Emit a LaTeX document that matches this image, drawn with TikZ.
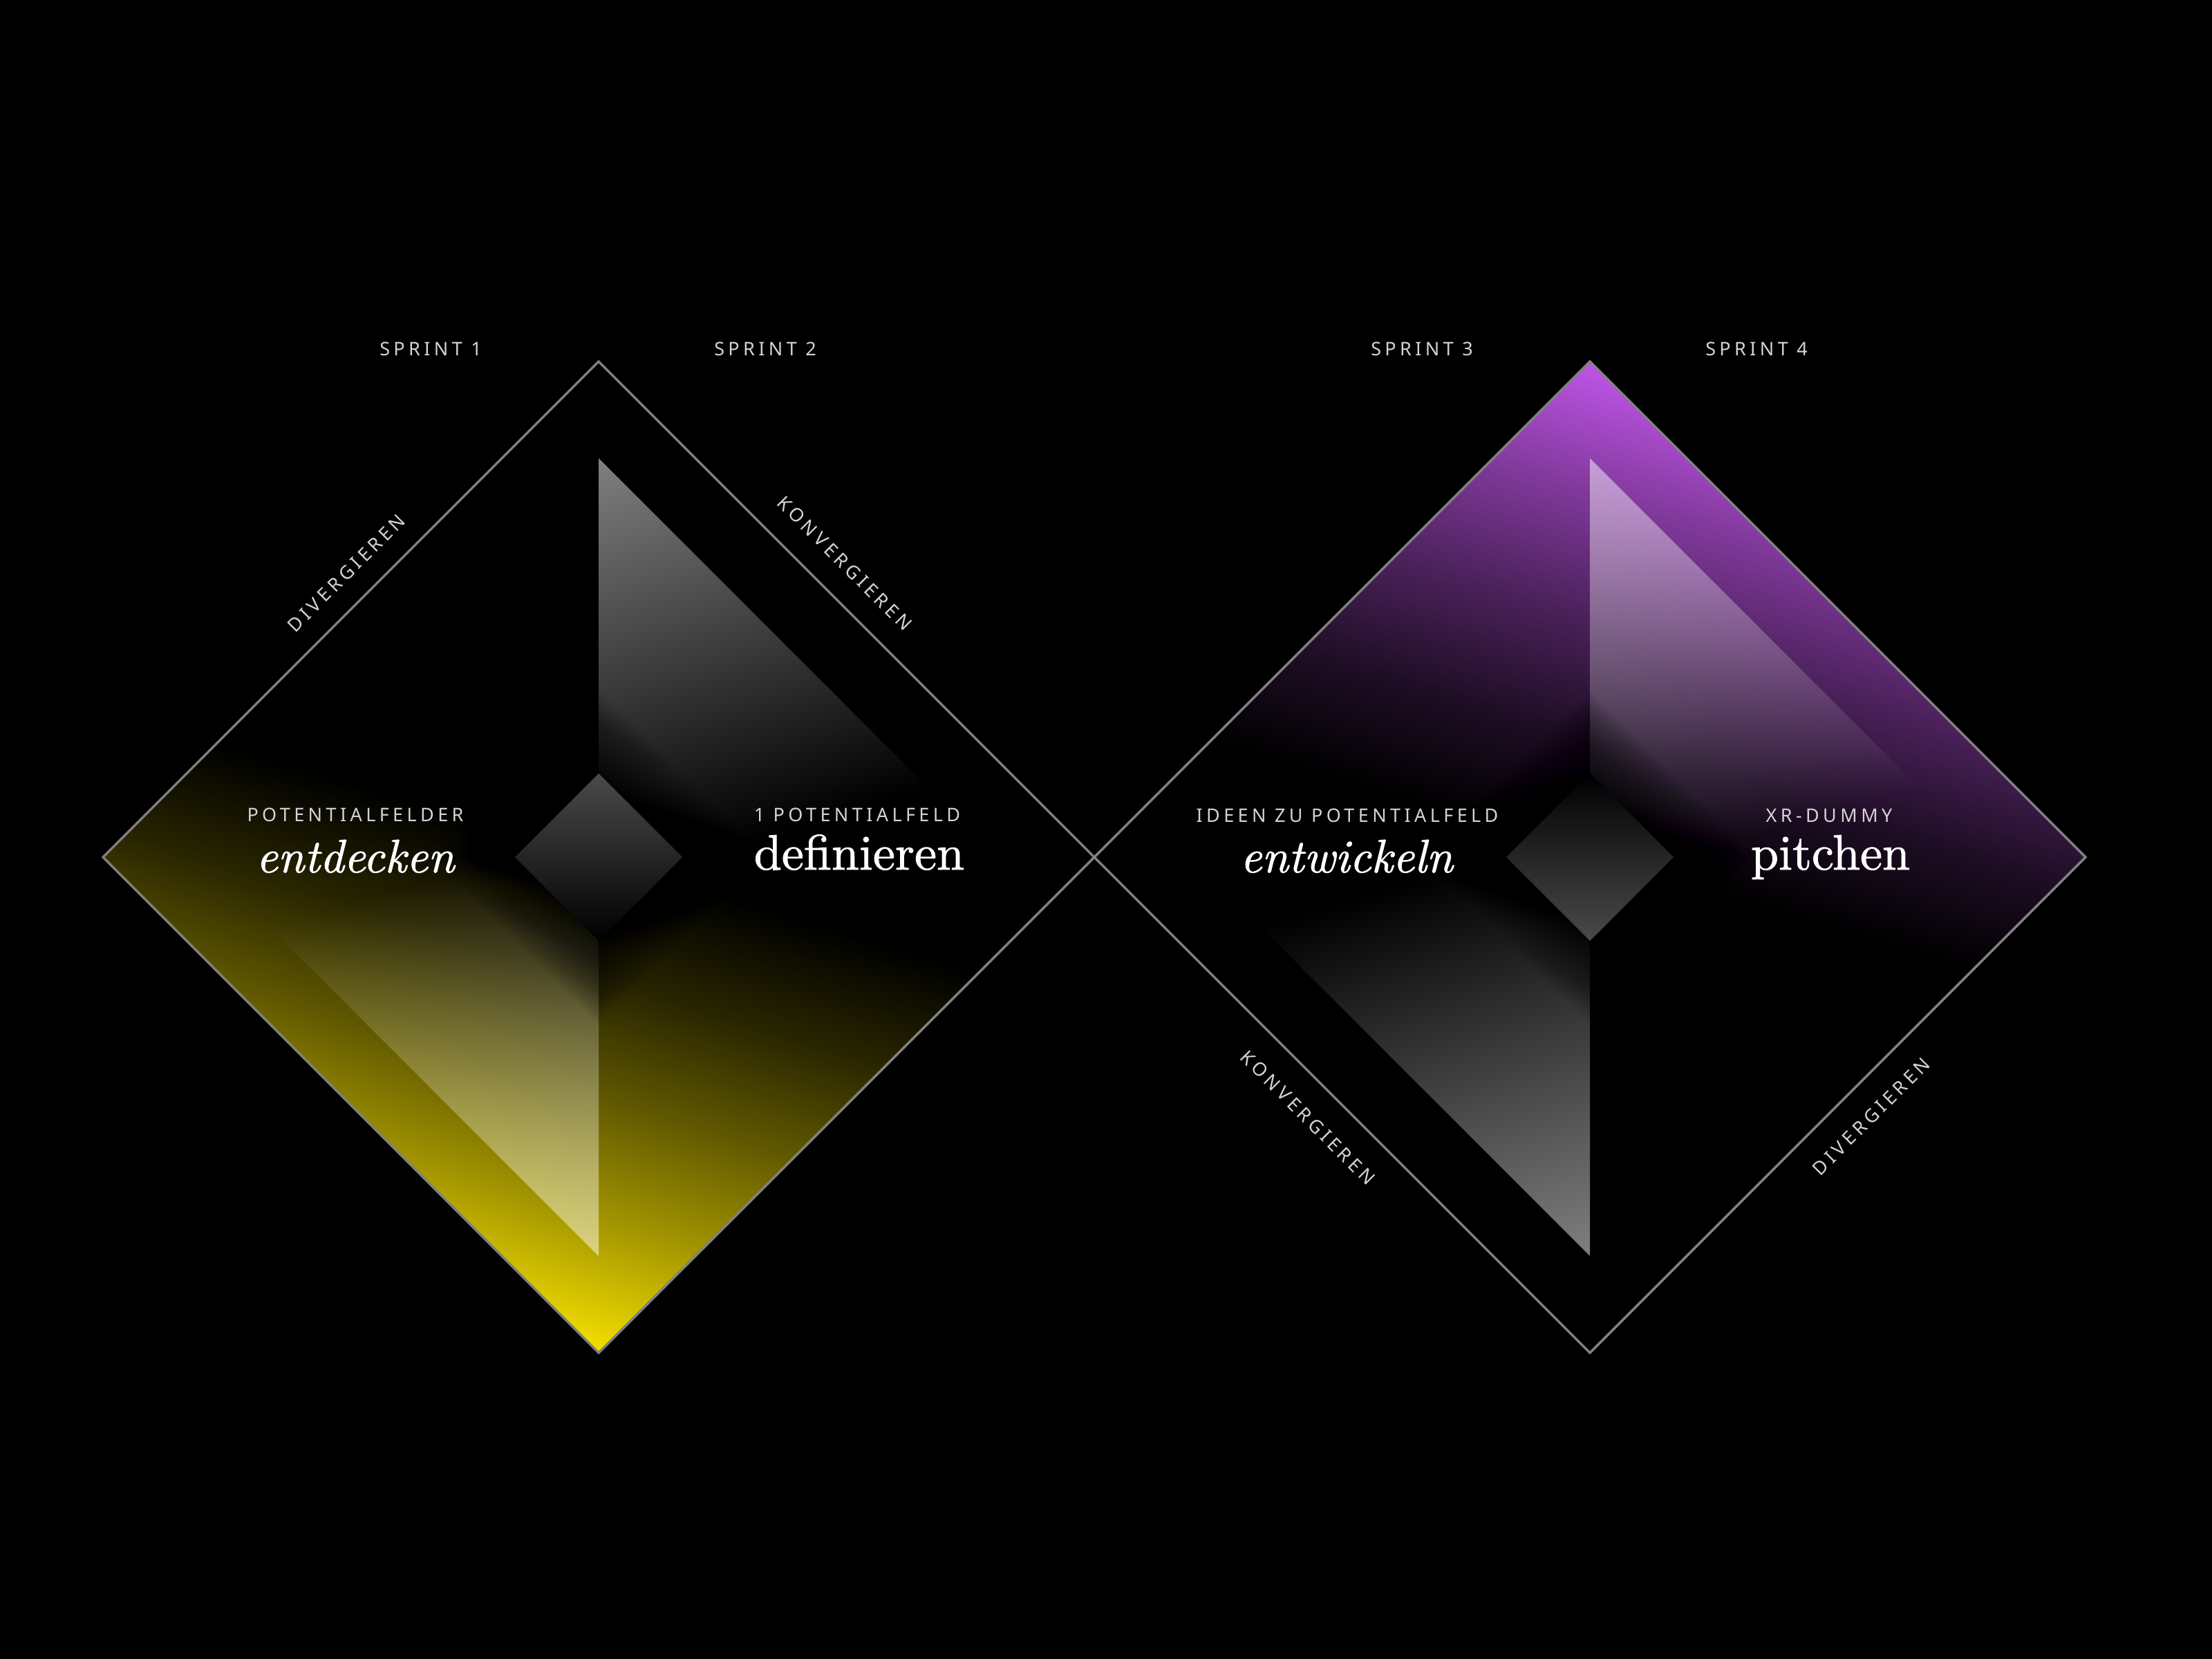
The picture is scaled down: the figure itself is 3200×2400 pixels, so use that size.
\documentclass[tikz,border=0pt]{standalone}
\usepackage{fontspec}
\newfontfamily\labelfont[LetterSpace=20]{Noto Sans}
\newfontfamily\wordfont{lmroman10-regular.otf}[ItalicFont=lmroman10-italic.otf, FakeBold=1.2]
\usetikzlibrary{fadings}
\definecolor{yel}{RGB}{245,224,0}
\definecolor{pur}{RGB}{192,85,232}
\definecolor{edgec}{RGB}{128,128,128}
\definecolor{lblc}{RGB}{212,212,212}
\tikzfading[name=fadetop, top color=transparent!50, bottom color=transparent!100]
\tikzfading[name=fadebottom, top color=transparent!100, bottom color=transparent!50]
\begin{document}
\begin{tikzpicture}[x=1pt,y=-1pt,
  lbl/.style={text=lblc, font=\labelfont\fontsize{27}{27}\selectfont, inner sep=0pt},
  word/.style={text=white, font=\wordfont\fontsize{72}{72}\selectfont, inner sep=0pt, anchor=base},
  iword/.style={word, font=\wordfont\itshape\fontsize{68}{68}\selectfont},
  rim/.style={draw=edgec, line width=3.5pt, line join=miter},
  glass/.style={fill=white},
  haze/.style={fill=black, fill opacity=0.035}]
\fill[black] (0,0) rectangle (3200,2400);
\path[use as bounding box] (0,0) rectangle (3200,2400);

% ---------- left diamond ----------
\coordinate (c1) at (866,1240);
\coordinate (t1) at (866,523);
\coordinate (r1) at (1583,1240);
\coordinate (b1) at (866,1957);
\coordinate (l1) at (149,1240);
\coordinate (ut1) at (866,663);
\coordinate (lt1) at (866,1817);
\begin{scope}
  \clip (t1) -- (r1) -- (b1) -- (l1) -- cycle;
  \begin{scope}[transform canvas={rotate around={-16.8:(c1)}}]
    \shade[top color=black, bottom color=yel!17!black] (-500,1240) rectangle (2300,1413);
    \shade[top color=yel!17!black, bottom color=yel!41!black] (-500,1412) rectangle (2300,1585);
    \shade[top color=yel!41!black, bottom color=yel!69!black] (-500,1584) rectangle (2300,1757);
    \shade[top color=yel!69!black, bottom color=yel] (-500,1756) rectangle (2300,1928);
    \fill[yel] (-500,1927) rectangle (2300,2800);
  \end{scope}
\end{scope}
\begin{scope}
  \clip (ut1) -- (1443,1240) -- (c1) -- cycle;
  \begin{scope}[transform canvas={rotate around={16.8:(ut1)}}]
    \fill[glass, path fading=fadetop] (-100,663) rectangle (1800,1258);
  \end{scope}
\end{scope}
\begin{scope}
  \clip (lt1) -- (289,1240) -- (c1) -- cycle;
  \begin{scope}[transform canvas={rotate around={16.8:(lt1)}}]
    \fill[glass, path fading=fadebottom] (-100,1222) rectangle (1800,1817);
  \end{scope}
\end{scope}
\begin{scope}
  \clip (t1) -- (r1) -- (b1) -- (l1) -- cycle;
  \foreach \k in {1,...,24} {
    \pgfmathsetmacro\h{121+5*\k}
    \fill[haze] (866,1240-\h) -- (866+\h,1240) -- (866,1240+\h) -- (866-\h,1240) -- cycle;
  }
\end{scope}
\shade[top color=white!29!black, middle color=white!10!black, bottom color=black]
  (866,1119) -- (987,1240) -- (866,1361) -- (745,1240) -- cycle;
\draw[rim] (t1) -- (r1) -- (b1) -- (l1) -- cycle;

% ---------- right diamond ----------
\coordinate (c2) at (2300,1240);
\coordinate (t2) at (2300,523);
\coordinate (r2) at (3017,1240);
\coordinate (b2) at (2300,1957);
\coordinate (l2) at (1583,1240);
\coordinate (ut2) at (2300,663);
\coordinate (lt2) at (2300,1817);
\begin{scope}
  \clip (t2) -- (r2) -- (b2) -- (l2) -- cycle;
  \begin{scope}[transform canvas={rotate around={-16.8:(c2)}}]
    \shade[top color=pur!17!black, bottom color=black] (900,1067) rectangle (3700,1240);
    \shade[top color=pur!41!black, bottom color=pur!17!black] (900,895) rectangle (3700,1068);
    \shade[top color=pur!69!black, bottom color=pur!41!black] (900,723) rectangle (3700,896);
    \shade[top color=pur, bottom color=pur!69!black] (900,552) rectangle (3700,724);
    \fill[pur] (900,-400) rectangle (3700,553);
  \end{scope}
\end{scope}
\begin{scope}
  \clip (ut2) -- (2877,1240) -- (c2) -- cycle;
  \begin{scope}[transform canvas={rotate around={16.8:(ut2)}}]
    \fill[glass, path fading=fadetop] (1300,663) rectangle (3300,1258);
  \end{scope}
\end{scope}
\begin{scope}
  \clip (lt2) -- (1723,1240) -- (c2) -- cycle;
  \begin{scope}[transform canvas={rotate around={16.8:(lt2)}}]
    \fill[glass, path fading=fadebottom] (1300,1222) rectangle (3300,1817);
  \end{scope}
\end{scope}
\begin{scope}
  \clip (t2) -- (r2) -- (b2) -- (l2) -- cycle;
  \foreach \k in {1,...,24} {
    \pgfmathsetmacro\h{121+5*\k}
    \fill[haze] (2300,1240-\h) -- (2300+\h,1240) -- (2300,1240+\h) -- (2300-\h,1240) -- cycle;
  }
\end{scope}
\shade[top color=black, middle color=white!10!black, bottom color=white!29!black]
  (2300,1119) -- (2421,1240) -- (2300,1361) -- (2179,1240) -- cycle;
\draw[rim] (t2) -- (r2) -- (b2) -- (l2) -- cycle;

% ---------- labels ----------
\node[lbl, anchor=base] (s1) at (623,514) {SPRINT 1};
\node[lbl, anchor=base] (s2) at (1107,514) {SPRINT 2};
\node[lbl, anchor=base] (s3) at (2057,514) {SPRINT 3};
\node[lbl, anchor=base] (s4) at (2541,514) {SPRINT 4};

\node[lbl, rotate=45] (dv1) at (501,829) {DIVERGIEREN};
\node[lbl, rotate=-45] (kv1) at (1222,815) {KONVERGIEREN};
\node[lbl, rotate=-45] (kv2) at (1892,1617) {KONVERGIEREN};
\node[lbl, rotate=45] (dv2) at (2707,1615) {DIVERGIEREN};

\node[lbl, anchor=base] (p1) at (514,1188) {POTENTIALFELDER};
\node[iword] (w1) at (514,1262) {entdecken};
\node[lbl, anchor=base] (p2) at (1240,1188) {1 POTENTIALFELD};
\node[word] (w2) at (1243,1258) {definieren};
\node[lbl, anchor=base] (p3) at (1949,1189) {IDEEN ZU POTENTIALFELD};
\node[iword] (w3) at (1948,1262) {entwickeln};
\node[lbl, anchor=base] (p4) at (2646,1189) {XR-DUMMY};
\node[word] (w4) at (2648,1258) {pitchen};
\end{tikzpicture}
\end{document}
